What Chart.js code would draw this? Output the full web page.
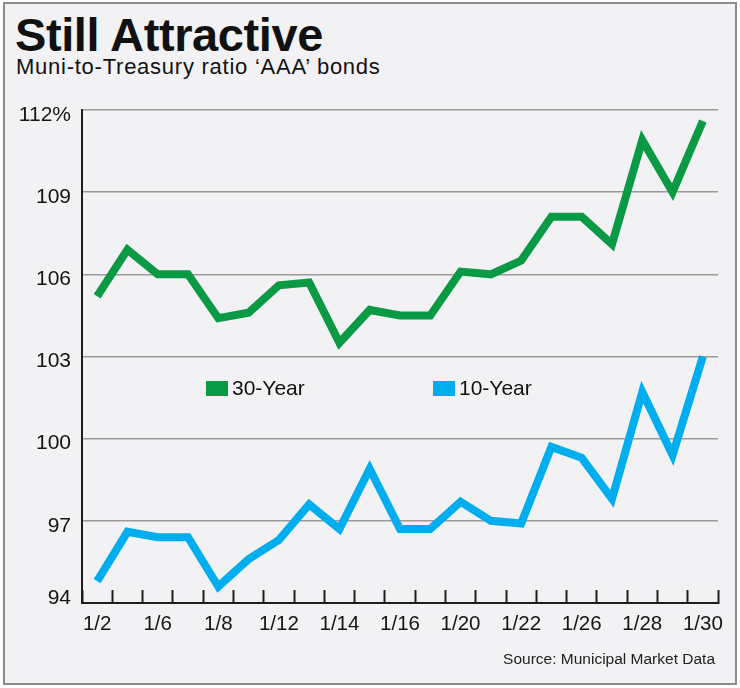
<!DOCTYPE html>
<html>
<head>
<meta charset="utf-8">
<title>Still Attractive</title>
<script src="https://cdn.jsdelivr.net/npm/chart.js@4"></script>
<style>
  html, body { margin: 0; padding: 0; background: #fff; }
  body { width: 740px; height: 688px; position: relative; overflow: hidden;
         font-family: "Liberation Sans", Arial, Helvetica, sans-serif; color: #111; }
  .frame { position: absolute; left: 3px; top: 2px; width: 734px; height: 683px;
           box-sizing: border-box; border: 2px solid #8c8c8c; background: #f2f2f4; }
  .title { position: absolute; left: 15px; top: 11px; font-size: 47px; font-weight: bold;
           line-height: 1; letter-spacing: -0.4px; }
  .subtitle { position: absolute; left: 16px; top: 56px; font-size: 22px; line-height: 1;
              letter-spacing: 0.75px; }
  .source { position: absolute; right: 25px; top: 651px; font-size: 15.5px; line-height: 1; color: #222; }
  #chartWrap { position: absolute; left: 0; top: 0; width: 740px; height: 688px; }
  .legend-item { position: absolute; font-size: 21px; line-height: 1; white-space: nowrap; }
  .legend-item span.box { display: inline-block; width: 22px; height: 15px; margin-right: 4px;
                          vertical-align: -1px; }
</style>
</head>
<body>
<div class="frame"></div>
<div class="title">Still Attractive</div>
<div class="subtitle">Muni-to-Treasury ratio ‘AAA’ bonds</div>
<div id="chartWrap"><canvas id="ratioChart" width="740" height="688"></canvas></div>
<div id="legend"></div>
<div class="source">Source: Municipal Market Data</div>

<script>
// Trading days, January (every other one is labelled)
const dates = ["1/2", "1/5", "1/6", "1/7", "1/8", "1/9", "1/12", "1/13", "1/14", "1/15",
  "1/16", "1/19", "1/20", "1/21", "1/22", "1/23", "1/26", "1/27", "1/28", "1/29", "1/30"];

// Muni-to-Treasury ratio, percent
const thirtyYear = [105.2, 106.9, 106.0, 106.0, 104.4, 104.6, 105.6, 105.7, 103.5, 104.7,
  104.5, 104.5, 106.1, 106.0, 106.5, 108.1, 108.1, 107.1, 110.9, 109.0, 111.6];
const tenYear = [94.8, 96.6, 96.4, 96.4, 94.6, 95.6, 96.3, 97.6, 96.7, 98.9,
  96.7, 96.7, 97.7, 97.0, 96.9, 99.7, 99.3, 97.8, 101.7, 99.4, 103.0];

const yTicks = [94, 97, 100, 103, 106, 109, 112];

const COLORS = {
  green: "#0a9a45",
  blue: "#00adef",
  grid: "#9a9a9a",
  axis: "#1e1e1e",
  text: "#141414",
};

const FONT = "'Liberation Sans', Arial, Helvetica, sans-serif";

// Where the HTML legend items sit inside the plot
const legendSpots = [{ left: 206, top: 377 }, { left: 433, top: 377 }];

function buildLegend(chart) {
  const holder = document.getElementById("legend");
  chart.data.datasets.forEach((ds, i) => {
    const item = document.createElement("div");
    item.className = "legend-item";
    item.style.left = legendSpots[i].left + "px";
    item.style.top = legendSpots[i].top + "px";
    const box = document.createElement("span");
    box.className = "box";
    box.style.background = ds.borderColor;
    item.appendChild(box);
    item.appendChild(document.createTextNode(ds.label));
    holder.appendChild(item);
  });
}

function createRatioChart(canvasId) {
  const ctx = document.getElementById(canvasId);
  if (!ctx) {
    console.error(`Canvas element ${canvasId} not found`);
    return null;
  }

  const lineStyle = {
    borderWidth: 8,
    pointRadius: 0,
    tension: 0,
    fill: false,
    borderJoinStyle: "miter",
    borderCapStyle: "butt",
  };

  return new Chart(ctx, {
    type: "line",
    data: {
      labels: dates,
      datasets: [
        Object.assign({ label: "30-Year", data: thirtyYear, borderColor: COLORS.green }, lineStyle),
        Object.assign({ label: "10-Year", data: tenYear, borderColor: COLORS.blue }, lineStyle),
      ],
    },
    options: {
      responsive: false,
      animation: false,
      layout: { padding: { top: 110, right: 22, bottom: 45, left: 0 } },
      plugins: {
        legend: { display: false },
        tooltip: { enabled: false },
      },
      scales: {
        x: {
          offset: true,
          grid: {
            offset: true,
            drawOnChartArea: false,
            drawTicks: true,
            tickLength: -13,
            tickColor: COLORS.axis,
            tickWidth: 2,
          },
          border: { color: COLORS.axis, width: 2 },
          ticks: {
            autoSkip: false,
            maxRotation: 0,
            padding: 22,
            color: COLORS.text,
            font: { family: FONT, size: 20.5 },
            callback: function (value, index) {
              return index % 2 === 0 ? dates[index] : "";
            },
          },
          afterFit: function (axis) {
            axis.height = 40;
            // labels may hang past the plot; don't let them shrink it
            axis.paddingLeft = 0;
            axis.paddingRight = 0;
          },
        },
        y: {
          min: 94,
          max: 112,
          afterBuildTicks: function (axis) {
            axis.ticks = yTicks.map((v) => ({ value: v }));
          },
          grid: { color: COLORS.grid, lineWidth: 1.5, drawTicks: false },
          border: { color: COLORS.axis, width: 2 },
          ticks: {
            padding: 11,
            labelOffset: 5,
            color: COLORS.text,
            font: { family: FONT, size: 21, lineHeight: 0.95 },
            callback: function (value) {
              if (value === 112) return "112%";
              // bottom label sits above the axis line, not below it
              if (value === 94) return ["94", ""];
              return value;
            },
          },
          afterFit: function (axis) { axis.width = 82; },
        },
      },
    },
  });
}

document.addEventListener("DOMContentLoaded", function () {
  const chart = createRatioChart("ratioChart");
  if (chart) buildLegend(chart);
});
</script>
</body>
</html>
